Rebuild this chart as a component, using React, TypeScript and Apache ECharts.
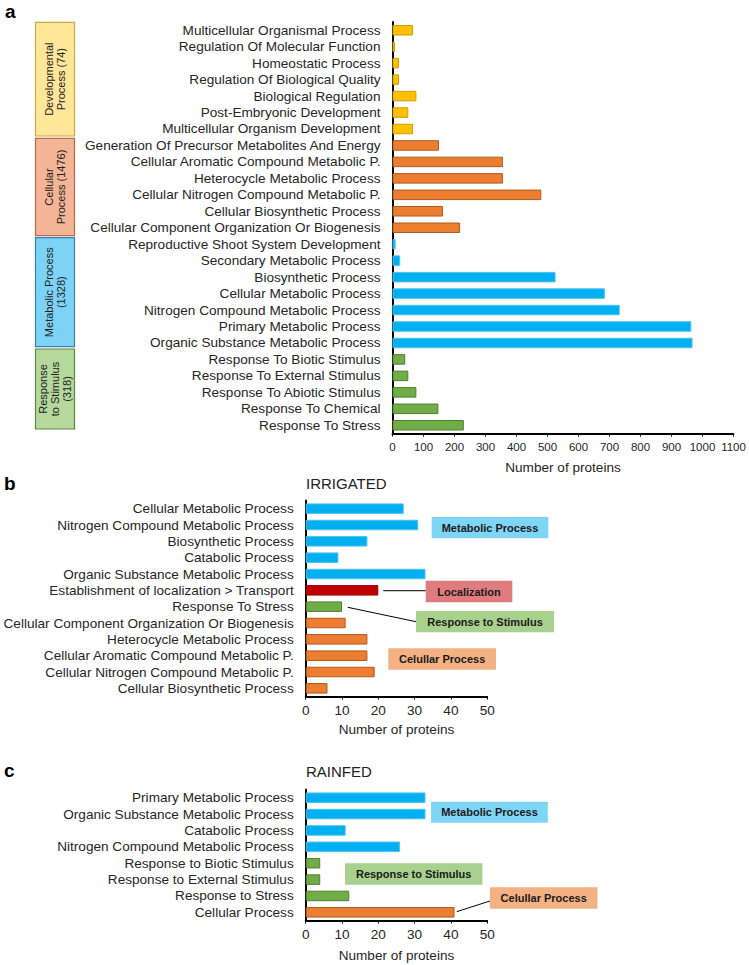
import React, { useEffect, useRef } from "react";
import * as echarts from "echarts";

const FONT = "'Liberation Sans', Arial, sans-serif";

// Panel a
const catA = [
  "Multicellular Organismal Process",
  "Regulation Of Molecular Function",
  "Homeostatic Process",
  "Regulation Of Biological Quality",
  "Biological Regulation",
  "Post-Embryonic Development",
  "Multicellular Organism Development",
  "Generation Of Precursor Metabolites And Energy",
  "Cellular Aromatic Compound Metabolic P.",
  "Heterocycle Metabolic Process",
  "Cellular Nitrogen Compound Metabolic P.",
  "Cellular Biosynthetic Process",
  "Cellular Component Organization Or Biogenesis",
  "Reproductive Shoot System Development",
  "Secondary Metabolic Process",
  "Biosynthetic Process",
  "Cellular Metabolic Process",
  "Nitrogen Compound Metabolic Process",
  "Primary Metabolic Process",
  "Organic Substance Metabolic Process",
  "Response To Biotic Stimulus",
  "Response To External Stimulus",
  "Response To Abiotic Stimulus",
  "Response To Chemical",
  "Response To Stress",
];
const valA = [66, 8, 21, 21, 77, 51, 66, 150, 356, 356, 480, 163, 218, 10, 25, 526, 685, 733, 964, 968, 41, 51, 77, 148, 230];
const grpA = [
  "dev", "dev", "dev", "dev", "dev", "dev", "dev",
  "cell", "cell", "cell", "cell", "cell", "cell",
  "met", "met", "met", "met", "met", "met", "met",
  "resp", "resp", "resp", "resp", "resp",
];
const ticksA = { min: 0, max: 1100, interval: 100 };

// Panel b
const catB = [
  "Cellular Metabolic Process",
  "Nitrogen Compound Metabolic Process",
  "Biosynthetic Process",
  "Catabolic Process",
  "Organic Substance Metabolic Process",
  "Establishment of localization > Transport",
  "Response To Stress",
  "Cellular Component Organization Or Biogenesis",
  "Heterocycle Metabolic Process",
  "Cellular Aromatic Compound Metabolic P.",
  "Cellular Nitrogen Compound Metabolic P.",
  "Cellular Biosynthetic Process",
];
const valB = [27, 31, 17, 9, 33, 20, 10, 11, 17, 17, 19, 6];
const grpB = ["met", "met", "met", "met", "met", "loc", "resp", "cell", "cell", "cell", "cell", "cell"];

// Panel c
const catC = [
  "Primary Metabolic Process",
  "Organic Substance Metabolic Process",
  "Catabolic Process",
  "Nitrogen Compound Metabolic Process",
  "Response to Biotic Stimulus",
  "Response to External Stimulus",
  "Response to Stress",
  "Cellular Process",
];
const valC = [33, 33, 11, 26, 4, 4, 12, 41];
const grpC = ["met", "met", "met", "met", "resp", "resp", "resp", "cell"];
const ticksBC = { min: 0, max: 50, interval: 10 };

const barColors: Record<string, { color: string; borderColor: string }> = {
  dev: { color: "#FFC000", borderColor: "#C9A000" },
  cell: { color: "#ED7D31", borderColor: "#AE5A21" },
  met: { color: "#00B0F0", borderColor: "#4FC0EE" },
  resp: { color: "#70AD47", borderColor: "#507E32" },
  loc: { color: "#C00000", borderColor: "#A00000" },
};

function items(vals: number[], grps: string[]) {
  return vals.map((v, i) => ({
    value: v,
    itemStyle: { ...barColors[grps[i]], borderWidth: 1 },
  }));
}

const txt = "#262626";

function yAxis(gridIndex: number, data: string[]) {
  return {
    type: "category",
    gridIndex,
    data,
    inverse: true,
    axisLine: { show: true, lineStyle: { color: "#000", width: 2 } },
    axisTick: { show: false },
    axisLabel: { interval: 0, margin: 12, fontSize: 13.6, color: txt, fontFamily: FONT },
  };
}

function xAxis(gridIndex: number, t: { min: number; max: number; interval: number }, labelSize: number, nameGap: number) {
  return {
    type: "value",
    gridIndex,
    min: t.min,
    max: t.max,
    interval: t.interval,
    axisLine: { show: true, lineStyle: { color: "#000", width: 2 } },
    axisTick: { show: true, length: 3, lineStyle: { color: "#000", width: 1 } },
    splitLine: { show: false },
    axisLabel: {
      fontSize: labelSize,
      color: txt,
      margin: 7,
      fontFamily: FONT,
      formatter: (v: number) => String(v),
    },
    name: "Number of proteins",
    nameLocation: "middle",
    nameGap,
    nameTextStyle: { fontSize: 13.6, color: txt, fontFamily: FONT },
  };
}

function groupBox(y1: number, y2: number, fill: string, stroke: string, label: string) {
  return [
    {
      type: "rect",
      shape: { x: 35.5, y: y1, width: 39, height: y2 - y1 },
      style: { fill, stroke, lineWidth: 1.2 },
    },
    {
      type: "text",
      x: 55,
      y: (y1 + y2) / 2,
      rotation: Math.PI / 2,
      style: {
        text: label,
        fontSize: 11,
        fontFamily: FONT,
        fill: "#222",
        align: "center",
        verticalAlign: "middle",
        textAlign: "center",
        textVerticalAlign: "middle",
        lineHeight: 12.3,
      },
    },
  ];
}

function annot(x: number, y: number, w: number, h: number, fill: string, label: string) {
  return [
    { type: "rect", shape: { x, y, width: w, height: h }, style: { fill } },
    {
      type: "text",
      x: x + w / 2,
      y: y + h / 2,
      style: {
        text: label,
        fontSize: 11,
        fontWeight: "bold",
        fontFamily: FONT,
        fill: "#1a1a1a",
        align: "center",
        verticalAlign: "middle",
        textAlign: "center",
        textVerticalAlign: "middle",
      },
    },
  ];
}

function line(x1: number, y1: number, x2: number, y2: number) {
  return { type: "line", shape: { x1, y1, x2, y2 }, style: { stroke: "#000", lineWidth: 1 } };
}

function plainText(x: number, y: number, text: string, size: number, bold = false) {
  return {
    type: "text",
    x,
    y,
    style: {
      text,
      fontSize: size,
      fontWeight: bold ? "bold" : "normal",
      fontFamily: FONT,
      fill: bold ? "#000" : "#222",
      align: "left",
      verticalAlign: "middle",
      textAlign: "left",
      textVerticalAlign: "middle",
    },
  };
}

export default function App() {
  const ref = useRef<HTMLDivElement>(null);
  useEffect(() => {
    if (!ref.current) return;
    const chart = echarts.init(ref.current, undefined, { renderer: "svg" });
    const option = {
      animation: false,
      backgroundColor: "#fff",
      textStyle: { fontFamily: FONT },
      grid: [
        { left: 392.5, top: 22, width: 341, height: 411.5 },
        { left: 305.7, top: 500.5, width: 181.5, height: 196 },
        { left: 305.7, top: 789.5, width: 181.5, height: 131 },
      ],
      xAxis: [xAxis(0, ticksA, 11.5, 27), xAxis(1, ticksBC, 13.6, 26), xAxis(2, ticksBC, 13.6, 28)],
      yAxis: [yAxis(0, catA), yAxis(1, catB), yAxis(2, catC)],
      series: [
        { type: "bar", xAxisIndex: 0, yAxisIndex: 0, barWidth: 10.5, data: items(valA, grpA) },
        { type: "bar", xAxisIndex: 1, yAxisIndex: 1, barWidth: 10.5, data: items(valB, grpB) },
        { type: "bar", xAxisIndex: 2, yAxisIndex: 2, barWidth: 10.5, data: items(valC, grpC) },
      ],
      graphic: [
        plainText(5, 11, "a", 19, true),
        plainText(4, 483, "b", 19, true),
        plainText(4, 770, "c", 19, true),
        plainText(306, 483, "IRRIGATED", 15),
        plainText(306, 771, "RAINFED", 15),
        ...groupBox(22.3, 136, "#FFE699", "#CDAA3C", "Developmental\nProcess (74)"),
        ...groupBox(138.3, 235.7, "#F4B496", "#B8694A", "Cellular\nProcess (1476)"),
        ...groupBox(237.7, 346.7, "#7DD3F5", "#3C7DB3", "Metabolic Process\n(1328)"),
        ...groupBox(349, 429, "#B5D89D", "#5B8A3C", "Response\nto Stimulus\n(318)"),
        // panel b annotations
        ...annot(431.7, 517, 116.6, 21.3, "#7FD5F5", "Metabolic Process"),
        ...annot(425.7, 580.7, 86.6, 21.6, "#E07B80", "Localization"),
        ...annot(416, 611, 138, 21.3, "#A9D18E", "Response to Stimulus"),
        ...annot(388.3, 648.3, 107.7, 21.4, "#F4B183", "Celullar Process"),
        line(383.3, 590.7, 425.7, 590.7),
        line(347.7, 607.3, 416, 621.7),
        // panel c annotations
        ...annot(431.1, 801.7, 116.7, 21, "#7FD5F5", "Metabolic Process"),
        ...annot(345, 863.3, 137.4, 21.4, "#A9D18E", "Response to Stimulus"),
        ...annot(489.9, 887.3, 107.6, 21.4, "#F4B183", "Celullar Process"),
        line(456.8, 911.7, 489.9, 901),
      ],
    };
    chart.setOption(option as any);
    return () => chart.dispose();
  }, []);
  return (
    <div
      ref={ref}
      style={{ position: "absolute", left: 0, top: 0, width: 749, height: 965, background: "#fff" }}
    />
  );
}
